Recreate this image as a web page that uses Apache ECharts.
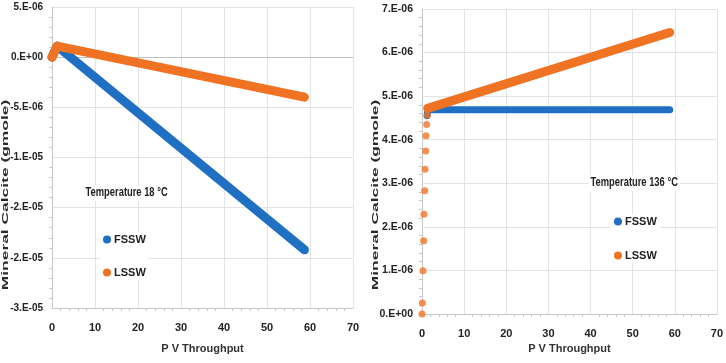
<!DOCTYPE html>
<html>
<head>
<meta charset="utf-8">
<script src="https://cdn.jsdelivr.net/npm/echarts@6/dist/echarts.min.js"></script>
<style>
  html, body { margin: 0; padding: 0; background: #fff; }
  #chart { width: 726px; height: 363px; }
</style>
</head>
<body>
<div id="chart"></div>
<script>
// --- data ---
// left panel, 18 °C
const fsswCold = [[0, 0], [1.2, 1.1e-6], [58.7, -1.92e-5]];
const lsswCold = [[0, 0], [1.2, 1.1e-6], [58.7, -3.99e-6]];
// right panel, 136 °C
const fsswHot = [[1.2, 4.55e-6], [1.4, 4.69e-6], [58.8, 4.69e-6]];
const lsswHotDots = [
  [0.0, 0], [0.1, 0.25e-6], [0.24, 0.99e-6], [0.4, 1.68e-6], [0.47, 2.29e-6],
  [0.65, 2.83e-6], [0.71, 3.32e-6], [0.87, 3.74e-6], [0.95, 4.09e-6],
  [1.11, 4.35e-6], [1.28, 4.56e-6]
];
const lsswHotLine = [[1.35, 4.72e-6], [58.8, 6.46e-6]];

// Excel style tick labels, from min upward
const yTicksCold = ["-3.E-05", "-2.E-05", "-2.E-05", "-1.E-05", "-5.E-06", "0.E+00", "5.E-06"];
const yTicksHot = ["0.E+00", "1.E-06", "2.E-06", "3.E-06", "4.E-06", "5.E-06", "6.E-06", "7.E-06"];

const BLUE = "#1f6fc3";
const ORANGE = "#f07323";
const FONT = "'Liberation Sans', Arial, sans-serif";
const GRID_COLOR = "#e3e3e3";

const chart = echarts.init(document.getElementById("chart"), null, { renderer: "canvas" });

const xAxisBase = (gridIndex, nameGap) => ({
  gridIndex,
  type: "value",
  min: 0,
  max: 70,
  interval: 10,
  name: "P V Throughput",
  nameLocation: "middle",
  nameGap,
  nameTextStyle: { fontFamily: FONT, fontWeight: "bold", fontSize: 11, color: "#333" },
  axisLine: { show: true, onZero: false, lineStyle: { color: "#c8c8c8" } },
  axisTick: { show: false },
  minorTick: { show: true, splitNumber: 5, length: 3, lineStyle: { color: "#c8c8c8" } },
  axisLabel: { fontFamily: FONT, fontWeight: "bold", fontSize: 11, color: "#222", margin: 14 },
  splitLine: { show: true, lineStyle: { color: GRID_COLOR } },
});

const yAxisBase = (gridIndex, min, max, interval, labels, fontSize) => ({
  gridIndex,
  type: "value",
  min,
  max,
  interval,
  axisLine: { show: true, lineStyle: { color: "#c8c8c8" } },
  axisTick: { show: false },
  minorTick: { show: true, splitNumber: 5, length: 3, lineStyle: { color: "#c8c8c8" } },
  axisLabel: {
    fontFamily: FONT, fontWeight: "bold", fontSize, color: "#222", margin: 9,
    formatter: (v, i) => labels[i],
  },
  splitLine: { show: true, lineStyle: { color: GRID_COLOR } },
});

const lineSeries = (name, data, color, idx, width, z) => ({
  name,
  type: "line",
  xAxisIndex: idx,
  yAxisIndex: idx,
  data,
  showSymbol: false,
  symbol: "circle",
  z,
  itemStyle: { color },
  lineStyle: { color, width, cap: "round", join: "round" },
  silent: true,
});

const yNameText = (x, y) => ({
  type: "text",
  x, y,
  rotation: Math.PI / 2,
  scaleX: 1.45,
  scaleY: 0.82,
  style: {
    text: "Mineral Calcite (gmole)",
    fontFamily: FONT,
    fontWeight: "bold",
    fontSize: 12,
    fill: "#2a2a2a",
    align: "center",
    verticalAlign: "middle",
  },
});

const noteText = (x, y, text) => ({
  type: "text",
  x, y,
  scaleX: 0.78,
  z: 10,
  style: {
    text, fontFamily: FONT, fontWeight: "bold", fontSize: 12, fill: "#222",
    verticalAlign: "middle", backgroundColor: "#fff", padding: [2, 2],
  },
});

const legendBase = (left, top, itemGap) => ({
  orient: "vertical",
  left, top,
  itemGap,
  itemWidth: 8, itemHeight: 8,
  icon: "circle",
  data: ["FSSW", "LSSW"],
  backgroundColor: "#fff",
  padding: [2, 3],
  textStyle: { fontFamily: FONT, fontWeight: "bold", fontSize: 11, color: "#222", padding: [0, 0, 0, -2] },
  selectedMode: false,
});

chart.setOption({
  animation: false,
  backgroundColor: "#fff",
  grid: [
    { left: 52, right: 373, top: 7, bottom: 55 },
    { left: 422, right: 7, top: 9, bottom: 49 },
  ],
  xAxis: [xAxisBase(0, 35), xAxisBase(1, 29)],
  yAxis: [
    yAxisBase(0, -2.5e-5, 5e-6, 5e-6, yTicksCold, 10),
    yAxisBase(1, 0, 7e-6, 1e-6, yTicksHot, 10.5),
  ],
  legend: [legendBase(100, 232, 22), legendBase(611, 214, 23)],
  graphic: [
    yNameText(5, 195),
    yNameText(375, 195),
    noteText(84, 193, "Temperature 18 °C"),
    noteText(589, 183, "Temperature 136 °C"),
  ],
  series: [
    Object.assign(lineSeries("FSSW", fsswCold, BLUE, 0, 9, 2), {
      markLine: {
        silent: true, symbol: "none", label: { show: false },
        lineStyle: { color: "#c0c0c0", width: 1, type: "solid" },
        data: [{ yAxis: 0 }],
        z: 1,
      },
    }),
    lineSeries("LSSW", lsswCold, ORANGE, 0, 9, 3),
    lineSeries("FSSW", fsswHot, BLUE, 1, 7, 2),
    lineSeries("LSSW", lsswHotLine, ORANGE, 1, 9, 3),
    {
      name: "LSSW",
      type: "scatter",
      xAxisIndex: 1,
      yAxisIndex: 1,
      data: lsswHotDots,
      symbol: "circle",
      symbolSize: 7,
      itemStyle: { color: ORANGE },
      z: 4,
      silent: true,
    },
  ],
});
</script>
</body>
</html>
